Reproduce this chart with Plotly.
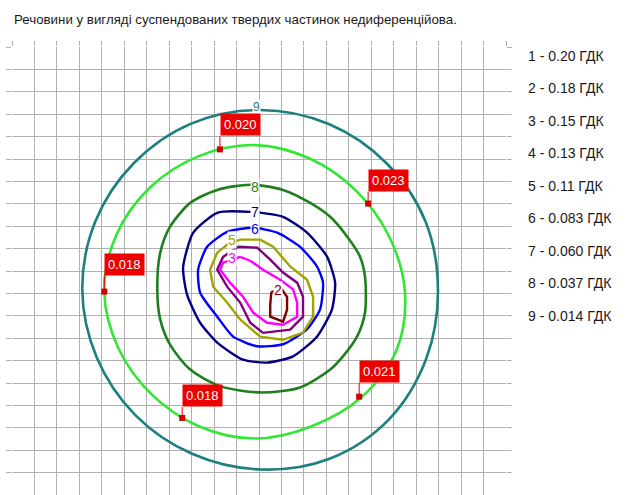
import plotly.graph_objects as go

# ---- data (grid units: x 0..22, y 0..20) ----
title_text = "Речовини у вигляді суспендованих твердих частинок недиференційова."

legend_nums = ["1", "2", "3", "4", "5", "6", "7", "8", "9"]
legend_vals = ["0.20", "0.18", "0.15", "0.13", "0.11", "0.083", "0.060", "0.037", "0.014"]

# isoline 9 (0.014 ГДК)
c9_x = [11.05, 14.11, 16.68, 18.41, 18.97, 18.45, 16.81, 14.17, 11.05, 8.02, 5.48, 3.77,
        3.13, 3.71, 5.42, 7.98, 11.05]
c9_y = [17.19, 16.56, 14.81, 12.22, 9.17, 6.09, 3.40, 1.63, 1.14, 1.84, 3.58, 6.15,
        9.16, 12.21, 14.81, 16.58, 17.19]

# unlabelled isoline carrying the point values (~0.02)
cg_x = [10.83, 13.28, 15.33, 16.79, 17.50, 17.12, 15.55, 13.32, 10.83, 8.34, 6.23, 4.74,
        4.11, 4.66, 6.17, 8.32, 10.83]
cg_y = [15.62, 15.01, 13.58, 11.55, 9.07, 6.46, 4.35, 3.06, 2.52, 3.06, 4.48, 6.55,
        9.08, 11.64, 13.75, 15.13, 15.62]

# isoline 8 (0.037)
c8_x = [10.61, 12.07, 13.28, 14.17, 14.93, 15.50, 15.72, 15.72, 15.37, 14.74, 14.17, 12.83, 11.05,
        9.27, 7.94, 7.04, 6.60, 6.47, 6.60, 7.04, 7.94, 9.14, 10.61]
c8_y = [13.85, 13.62, 13.04, 12.42, 11.53, 10.64, 9.75, 8.15, 7.08, 6.19, 5.60, 4.80, 4.58,
        4.86, 5.60, 6.71, 7.84, 9.18, 10.81, 11.98, 13.04, 13.62, 13.85]

# isoline 7 (0.060)
c7_x = [10.61, 12.07, 13.14, 14.03, 14.39, 14.25, 13.59, 12.52, 11.36, 10.29, 9.14, 8.38, 7.80,
        7.62, 8.07, 9.14, 10.61]
c7_y = [12.64, 12.42, 11.71, 10.64, 9.48, 8.29, 7.08, 6.19, 5.91, 6.04, 6.80, 7.69, 8.93,
        10.16, 11.71, 12.60, 12.64]

# isoline 6 (0.083)
c6_x = [10.74, 11.81, 12.83, 13.59, 13.85, 13.72, 13.14, 12.07, 10.92, 9.85, 9.14, 8.38, 8.29,
        8.69, 9.58, 10.74]
c6_y = [11.93, 11.71, 11.08, 10.19, 9.48, 8.29, 7.40, 6.73, 6.64, 7.07, 7.96, 9.03, 10.06,
        11.08, 11.75, 11.93]

# isoline 5 (0.11)
c5_x = [11.05, 11.63, 12.40, 13.14, 13.41, 13.41, 12.96, 12.07, 11.05, 10.16, 9.58, 8.96, 8.82,
        9.14, 9.58, 10.16, 11.05]
c5_y = [11.40, 11.08, 10.19, 9.61, 8.85, 7.96, 7.25, 6.93, 7.07, 7.84, 8.59, 9.30, 10.06,
        10.82, 11.17, 11.40, 11.40]

# isoline 4 (0.13)
c4_x = [10.07, 10.92, 11.50, 12.07, 12.70, 12.96, 12.96, 12.39, 11.18, 10.61, 10.16, 9.58, 9.14,
        9.40, 10.07]
c4_y = [11.08, 11.04, 10.51, 9.93, 9.48, 8.85, 7.96, 7.38, 7.24, 7.69, 8.59, 9.30, 10.06,
        10.63, 11.08]

# isoline 3 (0.15)
c3_x = [10.16, 10.61, 11.18, 11.94, 12.52, 12.70, 12.70, 12.07, 11.36, 10.74, 10.29, 9.71, 9.27,
        9.40, 10.16]
c3_y = [10.63, 10.46, 10.06, 9.61, 9.18, 8.59, 7.96, 7.60, 7.69, 8.14, 8.85, 9.48, 10.06,
        10.37, 10.63]

# isoline 2 (0.18)
c2_x = [11.55, 11.50, 11.50, 12.07, 12.25, 12.25, 12.03, 11.55]
c2_y = [9.07, 8.49, 7.96, 7.74, 8.27, 8.85, 9.16, 9.07]

# isoline number labels
lab_num = ["9", "8", "7", "6", "5", "3", "2"]
lab_x = [10.90, 10.83, 10.83, 10.83, 9.80, 9.80, 11.85]
lab_y = [17.30, 13.76, 12.64, 11.88, 11.40, 10.59, 9.16]

# point values on the ~0.02 isoline
pt_x = [9.26, 15.86, 4.11, 7.58, 15.46]
pt_y = [15.43, 13.01, 9.08, 3.44, 4.39]
pt_val = ["0.020", "0.023", "0.018", "0.018", "0.021"]

# ---- styles ----
col9, colg, col8, col7, col6 = "#1d7f7f", "#33e633", "#1f7f1f", "#000080", "#0000ff"
col5, col4, col3, col2 = "#a3a300", "#800080", "#ff00ff", "#800000"
lab_col = [col9, col8, col7, col6, col5, col3, col2]
lab_size = [12, 14, 14, 14, 14, 14, 14]
pt_ay = [-13, -12, -16, -11, -14]

FONT = "Liberation Sans, Arial, sans-serif"

fig = go.Figure()

lines = [
    (c9_x, c9_y, col9, 2.6, "spline", 1.0),
    (cg_x, cg_y, colg, 2.6, "spline", 1.0),
    (c8_x, c8_y, col8, 2.6, "spline", 0.8),
    (c7_x, c7_y, col7, 2.4, "spline", 0.6),
    (c6_x, c6_y, col6, 2.4, "spline", 0.6),
    (c5_x, c5_y, col5, 2.4, "linear", 0),
    (c4_x, c4_y, col4, 2.4, "linear", 0),
    (c3_x, c3_y, col3, 2.4, "linear", 0),
    (c2_x, c2_y, col2, 2.4, "linear", 0),
]
for xs, ys, c, w, shp, sm in lines:
    fig.add_trace(go.Scatter(x=xs, y=ys, mode="lines",
                             line=dict(color=c, width=w, shape=shp, smoothing=sm),
                             hoverinfo="skip", showlegend=False))

fig.add_trace(go.Scatter(x=pt_x, y=pt_y, mode="markers",
                         marker=dict(symbol="square", size=6, color="#cc0000"),
                         hoverinfo="skip", showlegend=False))

ann = []
for t, x, y, c, s in zip(lab_num, lab_x, lab_y, lab_col, lab_size):
    ann.append(dict(x=x, y=y, text=t, showarrow=False, bgcolor="white",
                    font=dict(family=FONT, size=s, color=c), borderpad=0))

for x, y, v, ay in zip(pt_x, pt_y, pt_val, pt_ay):
    ann.append(dict(x=x, y=y, text=v, showarrow=True, arrowhead=0, arrowwidth=1,
                    arrowcolor="#dd0000", ax=0, ay=ay, xanchor="left", yanchor="bottom",
                    bgcolor="#ee0000", borderpad=3,
                    font=dict(family=FONT, size=13, color="white")))

ann.append(dict(xref="paper", yref="paper", x=0.0, y=1.0625, text=title_text,
                showarrow=False, xanchor="left", yanchor="middle",
                font=dict(family=FONT, size=13.3, color="#1a1a1a")))

for i, (n, v) in enumerate(zip(legend_nums, legend_vals)):
    ann.append(dict(xref="paper", yref="paper", x=1.0405, y=0.980 - i * 0.0725,
                    text=f"{n} - {v} ГДК", showarrow=False, xanchor="left", yanchor="middle",
                    font=dict(family=FONT, size=14, color="#1a1a1a")))

grid = "#b0b0b0"
fig.update_layout(
    width=643, height=495,
    margin=dict(l=12, r=137, t=47, b=0),
    paper_bgcolor="white", plot_bgcolor="white",
    annotations=ann, hovermode=False,
    xaxis=dict(range=[0, 22], dtick=1, tick0=0, showgrid=True, gridcolor=grid, gridwidth=1,
               zeroline=False, showticklabels=False, ticks="outside", ticklen=5,
               tickcolor=grid, side="top", showline=False, fixedrange=True),
    yaxis=dict(range=[0, 20], dtick=1, tick0=0, showgrid=True, gridcolor=grid, gridwidth=1,
               zeroline=False, showticklabels=False, ticks="outside", ticklen=5,
               tickcolor=grid, mirror="ticks", showline=False, fixedrange=True),
)

fig.write_html("out.html", config={"displayModeBar": False},
               post_script="document.body.style.margin='0px';document.body.style.overflow='hidden';")
